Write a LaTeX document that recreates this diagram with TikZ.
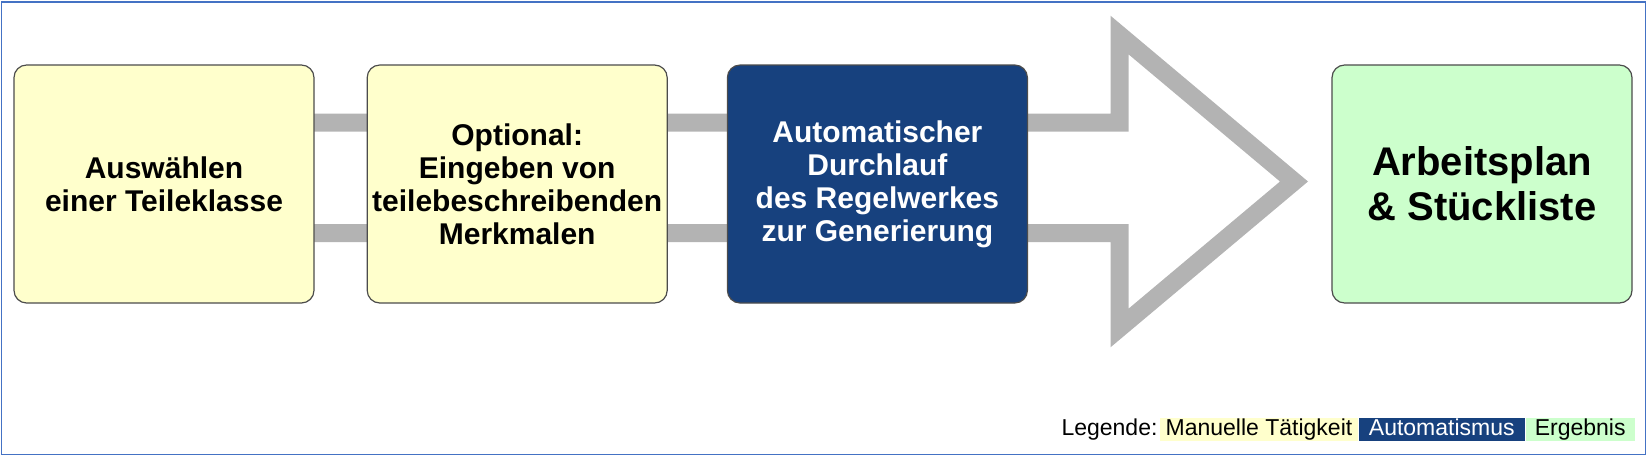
\documentclass[tikz,border=0pt]{standalone}
\usepackage{fontspec}
\setmainfont{Liberation Sans}
\usetikzlibrary{positioning,backgrounds}
\definecolor{manuell}{HTML}{FFFFCC}
\definecolor{automat}{HTML}{17417E}
\definecolor{ergebnis}{HTML}{CCFFCC}
\definecolor{pfeil}{HTML}{B3B3B3}
\definecolor{rahmen}{HTML}{4472C4}

\begin{document}
\begin{tikzpicture}[x=0.5pt,y=-0.5pt,
  stepbox/.style={draw=black!70,line width=0.6pt,rounded corners=6.3pt,align=center,
    font=\bfseries\fontsize{15}{16.5}\selectfont,minimum width=150pt,minimum height=119pt,inner sep=0pt},
  legend/.style={font=\fontsize{11.5}{12}\selectfont,inner xsep=4.5pt,inner ysep=0.6pt,
    text height=8.3pt,text depth=2.3pt},
  node distance=26pt
]
\useasboundingbox (0,0) rectangle (1648,457);
\draw[rahmen,line width=0.75pt] (1.5,2) rectangle (1645.5,454.5);
% Prozessschritte
\node[stepbox,fill=manuell] (auswahl) at (164,184) {Auswählen\\einer Teileklasse};
\node[stepbox,fill=manuell,right=of auswahl] (eingabe) {Optional:\\Eingeben von\\teilebeschreibenden\\Merkmalen};
\node[stepbox,fill=automat,text=white,right=29.5pt of eingabe] (durchlauf) {Automatischer\\Durchlauf\\des Regelwerkes\\zur Generierung};
\node[stepbox,fill=ergebnis,font=\bfseries\fontsize{20}{22.5}\selectfont,right=151.7pt of durchlauf] (ergebnis) {Arbeitsplan\\\& Stückliste};
% grosser Pfeil hinter den Kaesten
\begin{scope}[on background layer]
\draw[pfeil,line width=9pt,miter limit=10] (auswahl.center |- 0,122.5) -- (1119.5,122.5) -- (1119.5,35)
  -- (1294,181.5) -- (1119.5,328) -- (1119.5,233) -- (auswahl.center |- 0,233) -- cycle;
\end{scope}
% Legende
\node[legend,fill=ergebnis,anchor=east] (lgerg) at (1635,429.5) {Ergebnis};
\node[legend,fill=automat,text=white,inner xsep=5.2pt,left=0pt of lgerg] (lgauto) {Automatismus};
\node[legend,fill=manuell,inner xsep=2.7pt,left=0pt of lgauto] (lgman) {Manuelle Tätigkeit};
\node[legend,inner xsep=1pt,left=0pt of lgman] (lglabel) {Legende:};
\end{tikzpicture}
\end{document}
